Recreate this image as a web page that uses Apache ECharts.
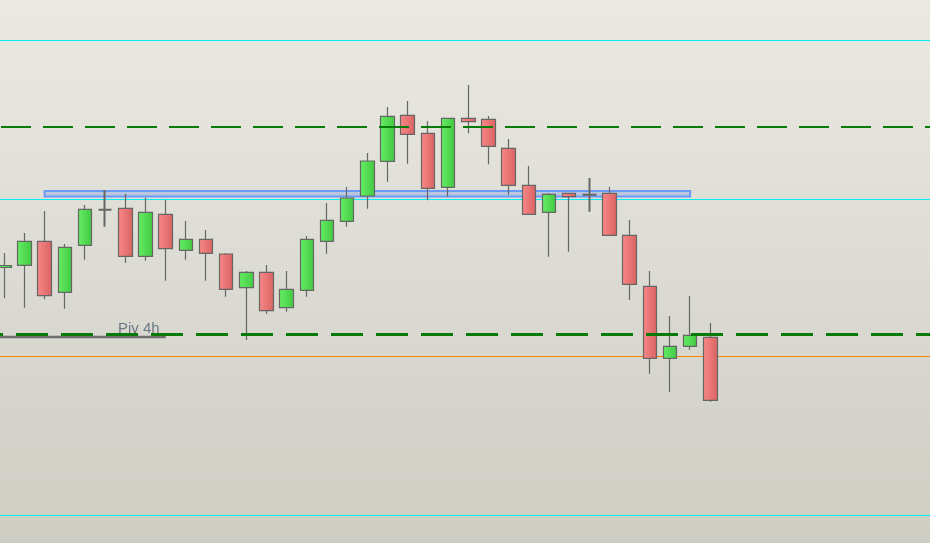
<!DOCTYPE html>
<html>
<head>
<meta charset="utf-8">
<script src="https://cdn.jsdelivr.net/npm/echarts@6/dist/echarts.min.js"></script>
<style>
html,body{margin:0;padding:0;}
#chart{width:930px;height:543px;}
</style>
</head>
<body>
<div id="chart"></div>
<script>
// Candle values (price points; higher = up)
const opens  = [275.5,277.7,301.7,250.7,297.7,333.3,334.7,286.7,328.7,292.7,303.7,289,255.3,270.7,235.3,252.7,301.7,321.7,347,381.7,427.7,409.7,355.7,424.7,423.7,394.7,357.7,330.7,349.7,348.3,349.7,307.7,256.7,184.7,196.7,205.7];
const closes = [277.5,301.7,247.3,295.7,333.7,333.3,286.7,330.7,294.3,303.7,289.7,253.7,270.7,232.3,253.7,303.7,322.7,345,382,426.7,408.7,354.7,424.7,421.3,396.7,357.7,328.7,348.7,346.3,348.3,307.7,258.7,184.7,196.7,207.7,142.7];
const lows   = [244.7,235.3,243.7,234.3,283.3,316.3,280.3,282.3,262.3,283.3,262.3,246.3,203,229.3,231.3,246.3,289.3,316.3,334.3,361.3,379.3,342.7,346.3,409.7,378.7,348.3,328.7,286.3,291.3,331.3,307.7,243,169.3,151.3,193.3,141.3];
const highs  = [290,310,332,299,338,353,349,345.3,343.3,322,313,290,272,278,272,307,340,356,390,436,442,421.7,424.7,458,427,404,377,350,349.7,365,356,323,272,227,247,220];

// Horizontal levels
const cyanLevels = [502.5, 343.5, 27.5];
const resistanceLevel = 416;
const supportLevel = 208.5;
const orangeLevel = 186.5;
const pivLevel = 206;
const pivLabel = 'Piv 4h';
const pivEndIndex = 8;
// Zone rectangle: [startIndex, endIndex, top, bottom]
const zoneStart = 2, zoneEnd = 34, zoneTop = 352, zoneBottom = 346.5;

const xMin = -0.213, xMax = 45.89;

const candleData = opens.map((o, i) => {
  const v = [i, o, closes[i], lows[i], highs[i]];
  if (o === closes[i]) return { value: v, itemStyle: { borderWidth: 2 } };
  return v;
});

function hline(level, color, width, type, dashOffset, z) {
  return {
    type: 'line', data: [[xMin, level], [xMax, level]], symbol: 'none', silent: true, z: z || 2,
    lineStyle: { color: color, width: width, type: type || 'solid', dashOffset: dashOffset || 0, cap: 'butt' },
    animation: false
  };
}

const chart = echarts.init(document.getElementById('chart'));
const series = [];
series.push({
  type: 'line', data: [], silent: true, z: 1,
  markArea: {
    silent: true,
    itemStyle: { color: 'rgba(105,140,230,0.3)', borderColor: '#6a9af7', borderWidth: 2 },
    data: [[{ coord: [zoneStart, zoneTop] }, { coord: [zoneEnd, zoneBottom] }]]
  }
});
cyanLevels.forEach(l => series.push(hline(l, '#00f0f0', 1, 'solid', 0, 2)));
series.push(hline(orangeLevel, '#ff8000', 1, 'solid', 0, 2));
series.push({
  type: 'line', data: [[xMin, pivLevel], [pivEndIndex, pivLevel]], symbol: 'none', silent: true, z: 2,
  lineStyle: { color: '#6e6e6e', width: 2.5, cap: 'butt' }, animation: false
});
series.push(hline(resistanceLevel, '#087a08', 2, [30, 12], 41, 4));
series.push(hline(supportLevel, '#087a08', 3, [32, 13], 29, 4));
series.push({
  type: 'candlestick',
  data: candleData,
  encode: { x: 0, y: [1, 2, 3, 4] },
  barWidth: 14,
  z: 3,
  itemStyle: {
    color: new echarts.graphic.LinearGradient(0, 0, 1, 0, [{ offset: 0, color: '#66ee66' }, { offset: 1, color: '#40c840' }]),
    color0: new echarts.graphic.LinearGradient(0, 0, 1, 0, [{ offset: 0, color: '#fa8888' }, { offset: 1, color: '#d86262' }]),
    borderColor: '#666666',
    borderColor0: '#666666',
    borderColorDoji: '#666666',
    borderWidth: 1.2
  },
  animation: false
});

chart.setOption({
  animation: false,
  backgroundColor: { type: 'linear', x: 0, y: 0, x2: 0, y2: 1, colorStops: [{ offset: 0, color: '#eaeae3' }, { offset: 1, color: '#cdcdc4' }] },
  grid: { left: 0, right: 0, top: 0, bottom: 0 },
  xAxis: { type: 'value', min: xMin, max: xMax, show: false, splitLine: { show: false } },
  yAxis: { type: 'value', min: 0, max: 543, show: false, splitLine: { show: false } },
  graphic: [{
    type: 'text', left: 118, top: 321, z: 10,
    style: { text: pivLabel, fill: '#6c7886', font: '15px "Liberation Sans", Arial, sans-serif' }
  }],
  series: series
});
</script>
</body>
</html>
